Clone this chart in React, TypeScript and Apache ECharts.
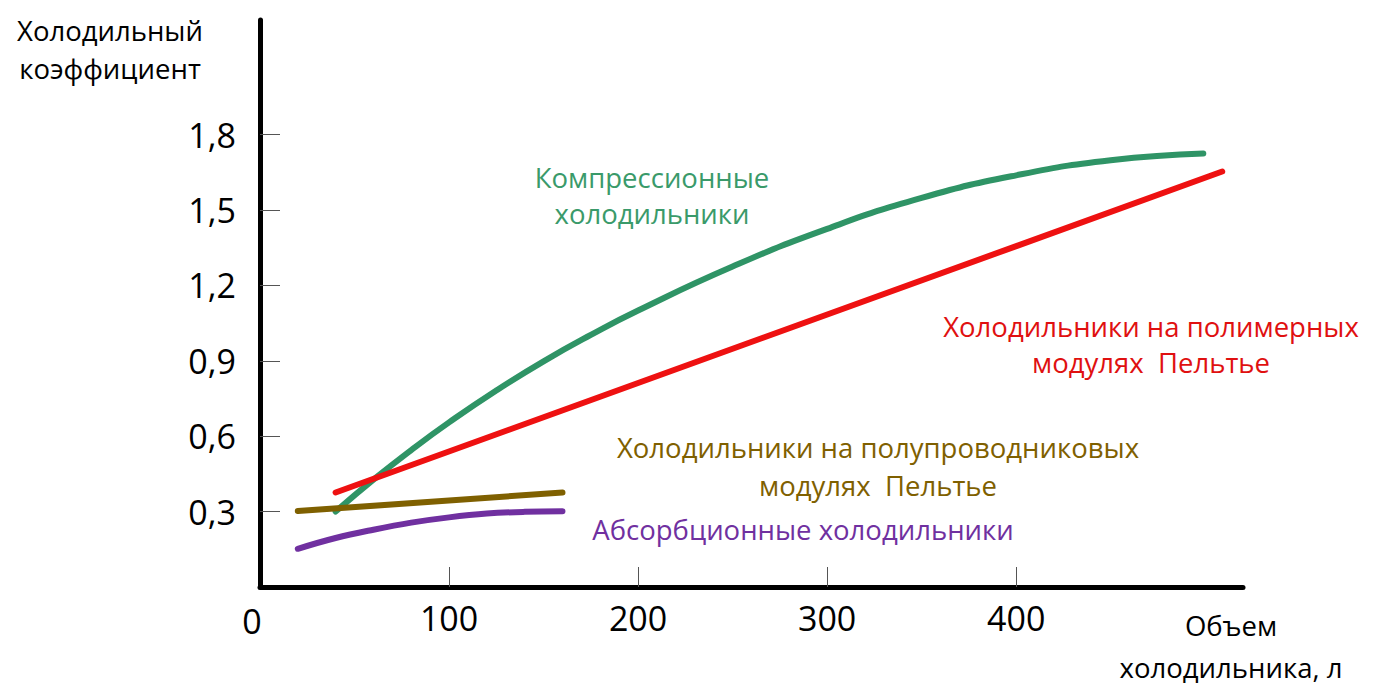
import React, { useEffect, useRef } from "react";
import * as echarts from "echarts";

const compressionX = [40, 60, 80, 100, 125, 150, 175, 200, 250, 300, 350, 400, 450, 499];
const compressionY = [0.3, 0.427, 0.545, 0.655, 0.782, 0.898, 1.003, 1.1, 1.275, 1.425, 1.548, 1.638, 1.698, 1.725];
const polymerX = [40, 509];
const polymerY = [0.376, 1.653];
const semiX = [20, 160];
const semiY = [0.302, 0.376];
const absorbX = [20, 40, 60, 80, 100, 120, 140, 160];
const absorbY = [0.152, 0.195, 0.228, 0.256, 0.277, 0.292, 0.299, 0.301];

const yTicks = [0.3, 0.6, 0.9, 1.2, 1.5, 1.8];
const xTicks = [100, 200, 300, 400];

const FONT = "'Open Sans', 'Noto Sans', sans-serif";
const LABEL_SIZE = 27.5;

function pairs(xs: number[], ys: number[]) {
  return xs.map((x, i) => [x, ys[i]]);
}

export default function App() {
  const ref = useRef<HTMLDivElement>(null);
  useEffect(() => {
    document.body.style.margin = "0";
    const chart = echarts.init(ref.current!, undefined, { renderer: "svg" });
    const lineBase = (color: string, smooth: boolean | number) => ({
      type: "line" as const,
      smooth,
      symbol: "none",
      lineStyle: { color, width: 6, cap: "round" as const, join: "round" as const },
      silent: true,
    });
    const label = (text: string, x: number, yFirstCenter: number, lh: number, fill: string, size = LABEL_SIZE) => ({
      type: "text",
      x,
      y: yFirstCenter - lh / 2,
      style: {
        text,
        fontSize: size,
        lineHeight: lh,
        fill,
        fontFamily: FONT,
        align: "center",
        verticalAlign: "top",
      },
    });
    chart.setOption({
      animation: false,
      backgroundColor: "#ffffff",
      textStyle: { fontFamily: FONT },
      grid: { left: 260, right: 142, top: 20, bottom: 111, containLabel: false },
      xAxis: {
        type: "value",
        min: 0,
        max: 520,
        axisLine: { show: true, lineStyle: { color: "#000", width: 5, cap: "round" } },
        axisTick: {
          show: true,
          inside: true,
          length: 20,
          customValues: xTicks,
          lineStyle: { color: "#555", width: 1 },
        },
        axisLabel: {
          customValues: xTicks,
          fontSize: 34,
          color: "#000",
          margin: 14,
          fontFamily: FONT,
        },
        splitLine: { show: false },
      },
      yAxis: {
        type: "value",
        min: 0,
        max: 2.256,
        axisLine: { show: true, lineStyle: { color: "#000", width: 5, cap: "round" } },
        axisTick: {
          show: true,
          inside: true,
          length: 20,
          customValues: yTicks,
          lineStyle: { color: "#555", width: 1 },
        },
        axisLabel: {
          customValues: yTicks,
          fontSize: 34,
          color: "#000",
          margin: 24,
          fontFamily: FONT,
          formatter: (v: number) => v.toFixed(1).replace(".", ","),
        },
        splitLine: { show: false },
      },
      series: [
        { ...lineBase("#2f9466", 0.5), data: pairs(compressionX, compressionY) },
        { ...lineBase("#ee1111", false), data: pairs(polymerX, polymerY) },
        { ...lineBase("#7f6000", false), data: pairs(semiX, semiY) },
        { ...lineBase("#7030a0", 0.4), data: pairs(absorbX, absorbY) },
      ],
      graphic: [
        label("Холодильный\nкоэффициент", 110, 30, 38, "#000"),
        {
          type: "text",
          x: 252,
          y: 621,
          style: { text: "0", fontSize: 34, fill: "#000", fontFamily: FONT, align: "center", verticalAlign: "middle" },
        },
        label("Объем\nхолодильника, л", 1231, 625, 42, "#000"),
        label("Компрессионные\nхолодильники", 652, 177, 36, "#3a9a6a"),
        label("Холодильники на полимерных\nмодулях  Пельтье", 1151, 326, 36, "#e01010"),
        label("Холодильники на полупроводниковых\nмодулях  Пельтье", 878, 447, 38, "#7f6000"),
        label("Абсорбционные холодильники", 803, 529, 36, "#7030a0"),
      ],
    });
    return () => chart.dispose();
  }, []);
  return <div ref={ref} style={{ width: 1385, height: 698 }} />;
}
